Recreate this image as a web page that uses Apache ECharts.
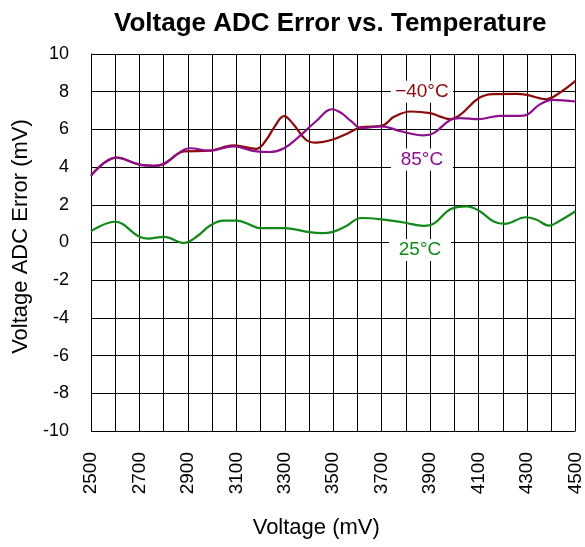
<!DOCTYPE html>
<html lang="en">
<head>
	<meta charset="UTF-8">
	<title>Voltage ADC Error vs. Temperature</title>
	<script src="https://cdn.jsdelivr.net/npm/echarts@6/dist/echarts.min.js"></script>
	<style>
		html,body{margin:0;padding:0;background:#fff;}
		#chart{width:585px;height:547px;}
	</style>
</head>
<body>
	<div id="chart"></div>
	<script type="text/javascript">
		// -40°C
		var xCold = [2500,2605,2700,2760,2800,2884,2990,3088,3183,3224,3258,3297,3332,3387,3428,3495,3561,3616,3700,3752,3820,3900,3942,3983,4024,4100,4160,4255,4299,4378,4432,4500];
		var yCold = [3.55,4.5,4.13,4.07,4.15,4.83,4.87,5.15,4.97,5.45,6.15,6.7,6.33,5.45,5.3,5.45,5.8,6.12,6.19,6.68,6.95,6.86,6.68,6.54,6.77,7.65,7.87,7.88,7.83,7.6,7.92,8.57];
		// 85°C
		var xHot = [2500,2605,2700,2760,2800,2884,2910,2990,3088,3183,3237,3297,3360,3428,3495,3534,3575,3616,3700,3779,3874,3915,3983,4024,4100,4187,4269,4299,4350,4405,4500];
		var yHot = [3.55,4.5,4.13,4.07,4.18,4.92,5.0,4.87,5.1,4.83,4.8,5.0,5.63,6.42,7.07,6.86,6.42,6.07,6.16,5.9,5.68,5.8,6.5,6.6,6.54,6.72,6.72,6.77,7.3,7.57,7.48];
		// 25°C
		var xRoom = [2500,2598,2700,2734,2802,2884,2938,2992,3047,3101,3155,3196,3297,3400,3455,3495,3548,3616,3700,3792,3874,3915,3983,4051,4105,4160,4207,4296,4337,4391,4432,4500];
		var yRoom = [0.6,1.1,0.3,0.21,0.3,-0.02,0.33,0.9,1.16,1.16,0.95,0.76,0.76,0.55,0.5,0.55,0.83,1.3,1.23,1.06,0.88,1.0,1.76,1.92,1.66,1.13,0.99,1.34,1.22,0.9,1.13,1.66];

		var seriesNames = ['\u221240\u00b0C', '85\u00b0C', '25\u00b0C'];
		var labelAt = [[3866, 8.0], [3866, 4.4], [3858, -0.4]];
		var colors = ['#8c0a0a', '#8c108c', '#12891a'];

		function pairs(xs, ys){
			var out = [];
			for(var i = 0; i < xs.length; i++){
				out.push([xs[i], ys[i]]);
			}
			return out;
		}

		function makeSeries(idx, data){
			return {
				name: seriesNames[idx],
				type: 'line',
				smooth: 0.4,
				symbol: 'none',
				data: data,
				lineStyle: {color: colors[idx], width: 2.2},
				markPoint: {
					symbol: 'rect',
					symbolSize: [62, 22],
					itemStyle: {color: '#fff'},
					label: {
						show: true,
						position: 'inside',
						formatter: seriesNames[idx],
						color: colors[idx],
						fontSize: 19,
						fontFamily: 'Liberation Sans, Arial, sans-serif'
					},
					data: [{coord: labelAt[idx]}]
				}
			};
		}

		var myChart = echarts.init(document.getElementById('chart'));
		var font = 'Liberation Sans, Arial, sans-serif';
		var option = {
			animation: false,
			title: {
				text: 'Voltage ADC Error vs. Temperature',
				left: 109,
				top: 6,
				textStyle: {fontSize: 26, fontWeight: 'bold', color: '#000', fontFamily: font}
			},
			grid: {left: 91, right: 6, top: 54, bottom: 116},
			xAxis: {
				type: 'value',
				min: 2500,
				max: 4500,
				interval: 100,
				name: 'Voltage (mV)',
				nameLocation: 'middle',
				nameGap: 86,
				nameTextStyle: {fontSize: 22, color: '#000', fontFamily: font, padding: [0, 34, 0, 0]},
				axisLine: {lineStyle: {color: '#000', width: 1}},
				axisTick: {show: false},
				splitLine: {lineStyle: {color: '#000', width: 1}},
				axisLabel: {
					rotate: 90,
					margin: 21,
					fontSize: 19,
					color: '#000',
					fontFamily: font,
					formatter: function(v){ return (v - 2500) % 200 === 0 ? String(v) : ''; }
				}
			},
			yAxis: {
				type: 'value',
				min: -10,
				max: 10,
				interval: 2,
				name: 'Voltage ADC Error (mV)',
				nameLocation: 'middle',
				nameGap: 50,
				nameTextStyle: {fontSize: 22, color: '#000', fontFamily: font, padding: [0, 0, 0, 12]},
				axisLine: {show: true, lineStyle: {color: '#000', width: 1}},
				axisTick: {show: false},
				splitLine: {lineStyle: {color: '#000', width: 1}},
				axisLabel: {margin: 22, fontSize: 18, color: '#000', fontFamily: font}
			},
			series: [
				makeSeries(0, pairs(xCold, yCold)),
				makeSeries(1, pairs(xHot, yHot)),
				makeSeries(2, pairs(xRoom, yRoom))
			]
		};
		myChart.setOption(option);
	</script>
</body>
</html>
